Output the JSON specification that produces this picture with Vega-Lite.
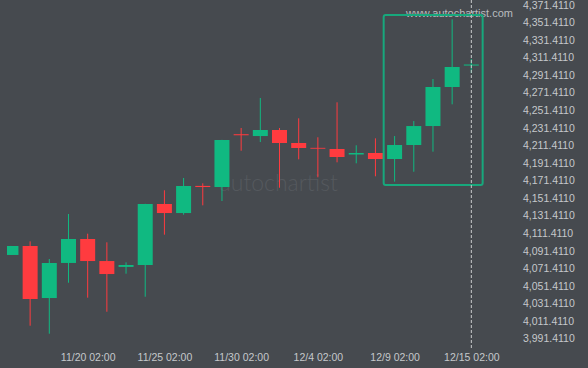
{
  "$schema": "https://vega.github.io/schema/vega-lite/v6.json",
  "width": 512,
  "height": 350,
  "autosize": {"type": "none"},
  "padding": {"left": 7, "top": 0, "right": 69, "bottom": 18},
  "background": "#464a4f",
  "config": {
    "view": {"stroke": null},
    "axis": {"labelFont": "Liberation Sans", "labelFontSize": 10.5, "labelColor": "#c5c8cb", "grid": false, "domain": false, "ticks": false, "title": null, "labelOverlap": false}
  },
  "datasets": {
    "candles": [
      {"i": 0, "open": 4087.0, "high": 4097.3, "low": 4087.0, "close": 4097.2},
      {"i": 1, "open": 4097.2, "high": 4102.5, "low": 4006.5, "close": 4036.9},
      {"i": 2, "open": 4038.0, "high": 4082.4, "low": 3997.4, "close": 4077.9},
      {"i": 3, "open": 4077.9, "high": 4133.6, "low": 4055.4, "close": 4105.2},
      {"i": 4, "open": 4105.2, "high": 4111.2, "low": 4038.4, "close": 4080.1},
      {"i": 5, "open": 4080.1, "high": 4101.4, "low": 4022.4, "close": 4065.3},
      {"i": 6, "open": 4073.4, "high": 4078.6, "low": 4065.7, "close": 4075.6},
      {"i": 7, "open": 4075.6, "high": 4145.2, "low": 4039.5, "close": 4145.0},
      {"i": 8, "open": 4145.0, "high": 4160.6, "low": 4110.1, "close": 4134.7},
      {"i": 9, "open": 4134.7, "high": 4174.6, "low": 4132.8, "close": 4165.5},
      {"i": 10, "open": 4165.6, "high": 4168.5, "low": 4143.5, "close": 4164.3},
      {"i": 11, "open": 4164.3, "high": 4218.0, "low": 4148.4, "close": 4217.8},
      {"i": 12, "open": 4224.4, "high": 4231.5, "low": 4205.6, "close": 4223.2},
      {"i": 13, "open": 4222.3, "high": 4265.6, "low": 4215.5, "close": 4229.2},
      {"i": 14, "open": 4229.2, "high": 4231.5, "low": 4163.5, "close": 4214.4},
      {"i": 15, "open": 4214.4, "high": 4242.5, "low": 4195.8, "close": 4208.7},
      {"i": 16, "open": 4208.9, "high": 4220.9, "low": 4175.4, "close": 4207.9},
      {"i": 17, "open": 4207.6, "high": 4260.7, "low": 4192.4, "close": 4198.5},
      {"i": 18, "open": 4201.3, "high": 4211.8, "low": 4191.3, "close": 4203.0},
      {"i": 19, "open": 4203.0, "high": 4219.7, "low": 4176.5, "close": 4196.2},
      {"i": 20, "open": 4196.2, "high": 4222.3, "low": 4170.4, "close": 4212.1},
      {"i": 21, "open": 4212.1, "high": 4239.4, "low": 4181.7, "close": 4233.7},
      {"i": 22, "open": 4233.7, "high": 4287.2, "low": 4204.5, "close": 4278.1},
      {"i": 23, "open": 4278.1, "high": 4355.1, "low": 4258.4, "close": 4300.9},
      {"i": 24, "open": 4302.5, "high": 4310.0, "low": 4294.0, "close": 4303.7}
    ],
    "box": [{"x1": 19.43, "x2": 24.59, "y1": 4166.6, "y2": 4360.0}],
    "watermark": [{"i": 13.96, "v": 4159.8, "label": "autochartist"}],
    "brand": [{"i": 26.17, "v": 4361.2, "label": "www.autochartist.com"}],
    "cursor": [{"i": 24}]
  },
  "layer": [
    {
      "data": {"name": "watermark"},
      "mark": {"type": "text", "font": "Lato", "fontWeight": 300, "fontSize": 23, "color": "#55595e", "align": "center", "baseline": "alphabetic"},
      "encoding": {
        "x": {"field": "i", "type": "quantitative", "scale": {"domain": [0.055, 26.224], "nice": false, "zero": false}, "axis": {"orient": "bottom", "values": [4, 8, 12, 16, 20, 24], "labelPadding": 2, "labelOverlap": false, "labelExpr": "datum.value == 4 ? '11/20 02:00' : datum.value == 8 ? '11/25 02:00' : datum.value == 12 ? '11/30 02:00' : datum.value == 16 ? '12/4 02:00' : datum.value == 20 ? '12/9 02:00' : '12/15 02:00'"}},
        "y": {"field": "v", "type": "quantitative", "scale": {"domain": [3978.88, 4377.1], "nice": false, "zero": false}, "axis": {"orient": "right", "values": [3991.411, 4011.411, 4031.411, 4051.411, 4071.411, 4091.411, 4111.411, 4131.411, 4151.411, 4171.411, 4191.411, 4211.411, 4231.411, 4251.411, 4271.411, 4291.411, 4311.411, 4331.411, 4351.411, 4371.411], "format": ",.4f", "labelPadding": 3.5, "labelOverlap": false, "labelBound": false, "tickCount": 20}},
        "text": {"field": "label"}
      }
    },
    {
      "data": {"name": "brand"},
      "mark": {"type": "text", "font": "Liberation Sans", "fontSize": 11, "color": "#b9bcbf", "align": "right", "baseline": "middle"},
      "encoding": {
        "x": {"field": "i", "type": "quantitative"},
        "y": {"field": "v", "type": "quantitative"},
        "text": {"field": "label"}
      }
    },
    {
      "data": {"name": "candles"},
      "mark": {"type": "rule", "strokeWidth": 1, "clip": true},
      "encoding": {
        "x": {"field": "i", "type": "quantitative"},
        "y": {"field": "low", "type": "quantitative"},
        "y2": {"field": "high"},
        "color": {"condition": {"test": "datum.close >= datum.open", "value": "#10b981"}, "value": "#ff3b3f"}
      }
    },
    {
      "data": {"name": "candles"},
      "mark": {"type": "bar", "size": 15, "clip": true},
      "encoding": {
        "x": {"field": "i", "type": "quantitative"},
        "y": {"field": "open", "type": "quantitative"},
        "y2": {"field": "close"},
        "color": {"condition": {"test": "datum.close >= datum.open", "value": "#10b981"}, "value": "#ff3b3f"}
      }
    },
    {
      "data": {"name": "box"},
      "mark": {"type": "rect", "filled": false, "stroke": "#17a87c", "strokeWidth": 2, "cornerRadius": 2},
      "encoding": {
        "x": {"field": "x1", "type": "quantitative"},
        "x2": {"field": "x2"},
        "y": {"field": "y1", "type": "quantitative"},
        "y2": {"field": "y2"}
      }
    },
    {
      "data": {"name": "cursor"},
      "mark": {"type": "rule", "color": "#c8cacc", "strokeWidth": 1, "strokeDash": [3, 2]},
      "encoding": {
        "x": {"field": "i", "type": "quantitative"}
      }
    }
  ]
}
